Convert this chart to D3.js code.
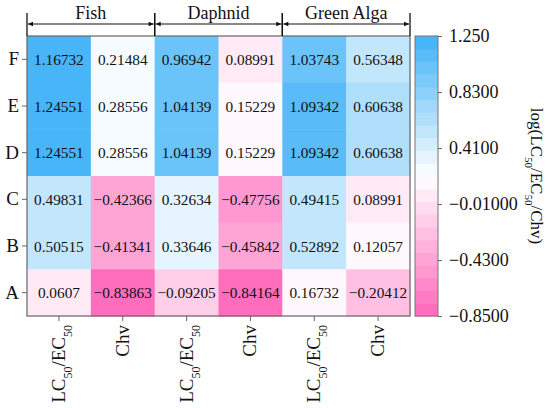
<!DOCTYPE html>
<html><head><meta charset="utf-8">
<script src="https://cdn.jsdelivr.net/npm/d3@7"></script>
<style>body{margin:0;background:#fff}svg{display:block;font-family:"Liberation Serif","Times New Roman",serif}</style>
</head><body><svg id="c" width="550" height="408"></svg>
<script>
const rows = ["F","E","D","C","B","A"];
const columns = ["Fish LC","Fish Chv","Daphnid LC","Daphnid Chv","Alga LC","Alga Chv"];
const columnKinds = ["LC","Chv","LC","Chv","LC","Chv"];
const groups = ["Fish","Daphnid","Green Alga"];
const fishLC = [1.16732,1.24551,1.24551,0.49831,0.50515,0.0607];
const fishChv = [0.21484,0.28556,0.28556,-0.42366,-0.41341,-0.83863];
const daphnidLC = [0.96942,1.04139,1.04139,0.32634,0.33646,-0.09205];
const daphnidChv = [0.08991,0.15229,0.15229,-0.47756,-0.45842,-0.84164];
const algaLC = [1.03743,1.09342,1.09342,0.49415,0.52892,0.16732];
const algaChv = [0.56348,0.60638,0.60638,0.08991,0.12057,-0.20412];
const colorTicks = [1.25,0.83,0.41,-0.01,-0.43,-0.85];
const colorTickLabels = ["1.250","0.8300","0.4100","\u22120.01000","\u22120.4300","\u22120.8500"];
const domainMin = -0.85, domainMax = 1.25;

const series = [fishLC,fishChv,daphnidLC,daphnidChv,algaLC,algaChv];
const cells = [];
series.forEach((s,ci)=>s.forEach((v,ri)=>cells.push({col:columns[ci],row:rows[ri],v})));

const svg = d3.select("#c");
const L=27,R=410,T=36,B=316;
const x = d3.scaleBand().domain(columns).range([L,R]);
const y = d3.scaleBand().domain(rows).range([T,B]);

const nLevels = 22;
const interp = d3.piecewise(d3.interpolateRgb, ["#ff6dbd","#ffffff","#47b5f7"]);
const levels = d3.range(nLevels).map(i=>interp(i/(nLevels-1)));
const color = d3.scaleQuantize().domain([domainMin,domainMax]).range(levels);

svg.append("g").selectAll("rect").data(cells).join("rect")
  .attr("x",d=>x(d.col)).attr("y",d=>y(d.row))
  .attr("width",x.bandwidth()+0.5).attr("height",y.bandwidth()+0.5)
  .attr("fill",d=>color(d.v));

const fmt = v=>String(v).replace("-","\u2212");
svg.append("g").selectAll("text").data(cells).join("text")
  .attr("x",d=>x(d.col)+x.bandwidth()/2).attr("y",d=>y(d.row)+y.bandwidth()/2)
  .attr("text-anchor","middle").attr("dominant-baseline","central")
  .attr("font-size",15.3).attr("fill","#111").text(d=>fmt(d.v));

svg.append("rect").attr("x",L).attr("y",T).attr("width",R-L).attr("height",B-T)
  .attr("fill","none").attr("stroke","#666").attr("stroke-width",1.2);

// y axis
const yAxis = svg.append("g").attr("transform",`translate(${L},0)`)
  .call(d3.axisLeft(y).tickSize(5).tickPadding(3));
yAxis.select(".domain").remove();
yAxis.selectAll(".tick line").attr("stroke","#666");
yAxis.selectAll(".tick text").attr("font-size",19).attr("fill","#111")
  .attr("font-family","Liberation Serif");

// x axis
const xAxis = svg.append("g").attr("transform",`translate(0,${B})`)
  .call(d3.axisBottom(x).tickSize(5).tickFormat(""));
xAxis.select(".domain").remove();
xAxis.selectAll(".tick line").attr("stroke","#666");
xAxis.selectAll(".tick").each(function(d,i){
  const t = d3.select(this).append("text")
    .attr("transform","translate(6,9) rotate(-90)")
    .attr("text-anchor","end").attr("font-size",19).attr("fill","#111")
    .attr("font-family","Liberation Serif");
  if(columnKinds[i]==="LC"){
    t.append("tspan").text("LC");
    t.append("tspan").attr("baseline-shift","sub").attr("font-size",12).text("50");
    t.append("tspan").text("/EC");
    t.append("tspan").attr("baseline-shift","sub").attr("font-size",12).text("50");
  } else {
    t.text("Chv");
  }
});

// group brackets
const gTop = 24;
const gW = (R-L)/groups.length;
groups.forEach((g,i)=>{
  const x0 = L + i*gW, x1 = x0+gW;
  const gg = svg.append("g");
  gg.append("line").attr("x1",x0).attr("x2",x0).attr("y1",13).attr("y2",T).attr("stroke","#111").attr("stroke-width",1.3);
  gg.append("line").attr("x1",x1).attr("x2",x1).attr("y1",13).attr("y2",T).attr("stroke","#111").attr("stroke-width",1.3);
  gg.append("line").attr("x1",x0+1).attr("x2",x1-1).attr("y1",gTop).attr("y2",gTop).attr("stroke","#111").attr("stroke-width",1.2);
  gg.append("path").attr("d",`M${x0+1},${gTop} l5,-2.2 l0,4.4 z`).attr("fill","#111");
  gg.append("path").attr("d",`M${x1-1},${gTop} l-5,-2.2 l0,4.4 z`).attr("fill","#111");
  gg.append("text").attr("x",(x0+x1)/2).attr("y",19).attr("text-anchor","middle")
    .attr("font-size",18).attr("fill","#111").text(g);
});

// colorbar
const cbX = 415, cbW = 23;
const cy = d3.scaleLinear().domain([domainMin,domainMax]).range([B,T]);
const step = (domainMax-domainMin)/nLevels;
svg.append("g").selectAll("rect").data(levels).join("rect")
  .attr("x",cbX).attr("width",cbW)
  .attr("y",(c,i)=>cy(domainMin+(i+1)*step)).attr("height",(c,i)=>cy(domainMin+i*step)-cy(domainMin+(i+1)*step)+0.5)
  .attr("fill",c=>c);
svg.append("rect").attr("x",cbX).attr("y",T).attr("width",cbW).attr("height",B-T)
  .attr("fill","none").attr("stroke","#777").attr("stroke-width",1);
const cAxis = svg.append("g").attr("transform",`translate(${cbX+cbW},0)`)
  .call(d3.axisRight(cy).tickValues(colorTicks).tickSize(4).tickPadding(7)
    .tickFormat((d,i)=>colorTickLabels[i]));
cAxis.select(".domain").remove();
cAxis.selectAll(".tick line").attr("stroke","#666");
cAxis.selectAll(".tick text").attr("font-size",18).attr("fill","#111").attr("font-family","Liberation Serif");

const lab = svg.append("text").attr("transform",`translate(531,${(T+B)/2}) rotate(90)`)
  .attr("text-anchor","middle").attr("font-size",17).attr("fill","#111");
lab.append("tspan").text("log(LC");
lab.append("tspan").attr("baseline-shift","sub").attr("font-size",11).text("50");
lab.append("tspan").text("/EC");
lab.append("tspan").attr("baseline-shift","sub").attr("font-size",11).text("50");
lab.append("tspan").text("/Chv)");
</script></body></html>
